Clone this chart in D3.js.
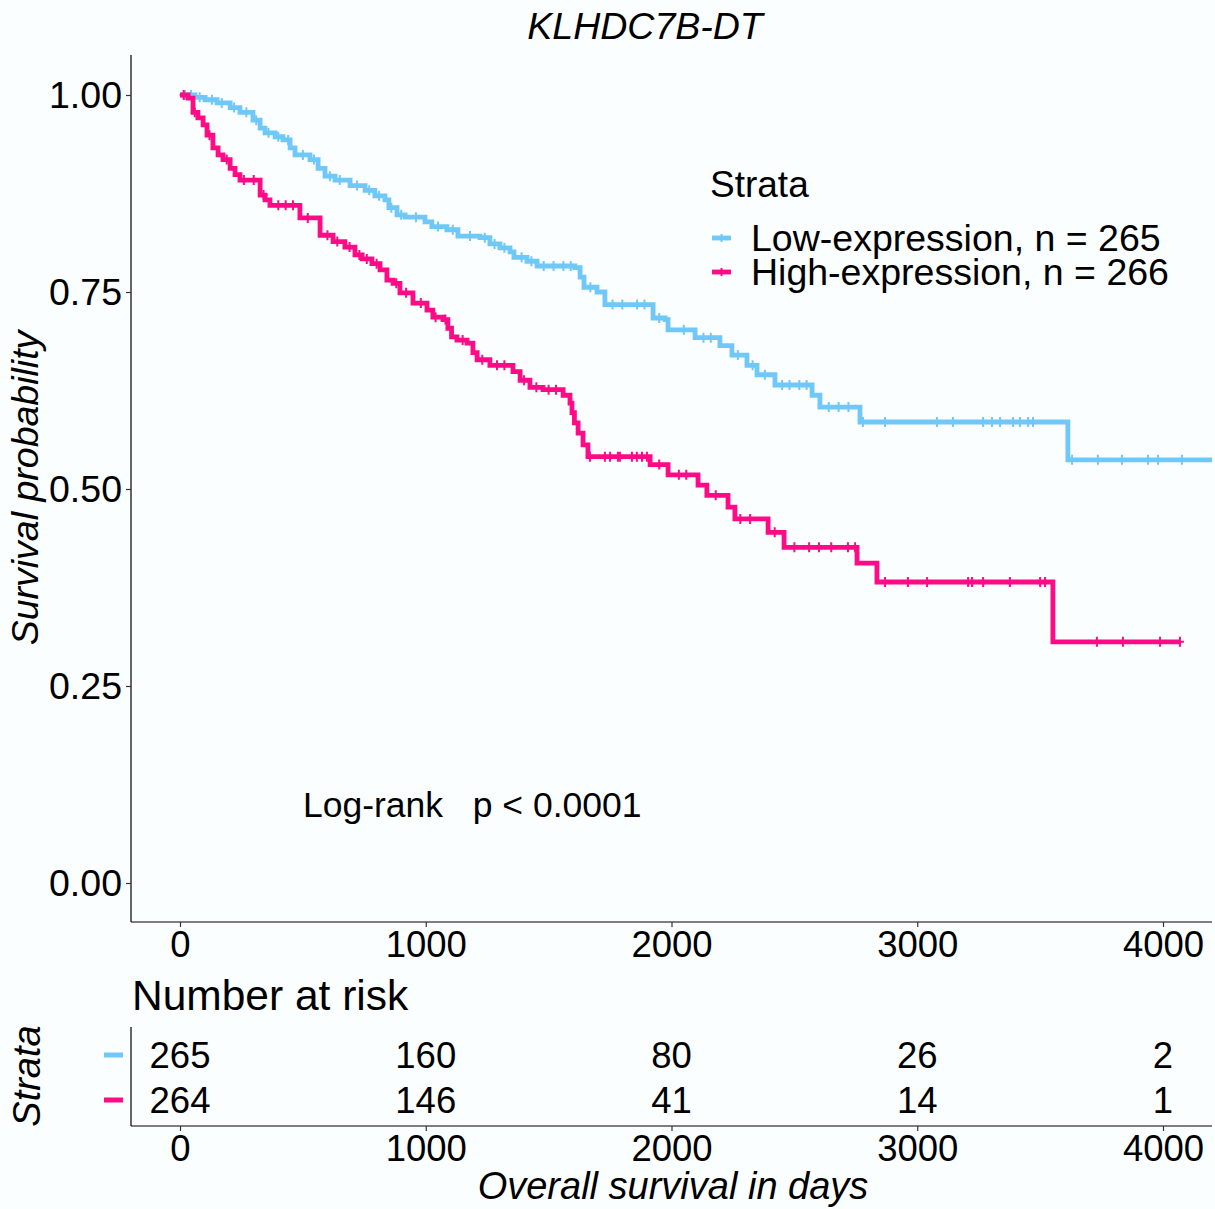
<!DOCTYPE html>
<html>
<head>
<meta charset="utf-8">
<script src="https://cdn.jsdelivr.net/npm/d3@7"></script>
<style>
  html, body { margin: 0; padding: 0; background: #FBFEFE; }
  text { font-family: "Liberation Sans", Arial, sans-serif; fill: #000; }
</style>
</head>
<body>
<svg id="chart" width="1215" height="1209"></svg>
<script>
// ---------------- DATA ----------------
const title = "KLHDC7B-DT";
const strata = ["Low-expression, n = 265", "High-expression, n = 266"];
const xTicks = [0, 1000, 2000, 3000, 4000];
const yTicks = [0, 0.25, 0.5, 0.75, 1.0];
const yTickLabels = ["0.00", "0.25", "0.50", "0.75", "1.00"];

// Low-expression KM steps (time in days, survival after the event)
const lowTimes = [0, 61, 102, 151, 204, 244, 297, 326, 346, 387, 419, 448, 468, 529, 562, 590, 631, 692, 753, 793, 834, 850, 883, 916, 997, 1025, 1086, 1131, 1221, 1261, 1302, 1343, 1359, 1412, 1453, 1607, 1628, 1644, 1697, 1729, 1925, 1974, 1986, 2096, 2197, 2246, 2307, 2348, 2421, 2572, 2604, 2767, 3613, 4200];
const lowSurv  = [1.0, 0.997, 0.994, 0.990, 0.984, 0.978, 0.968, 0.958, 0.952, 0.947, 0.943, 0.933, 0.924, 0.918, 0.907, 0.897, 0.892, 0.885, 0.879, 0.872, 0.867, 0.857, 0.848, 0.845, 0.839, 0.833, 0.829, 0.821, 0.819, 0.811, 0.806, 0.801, 0.794, 0.789, 0.783, 0.781, 0.769, 0.756, 0.750, 0.734, 0.717, 0.715, 0.702, 0.692, 0.682, 0.670, 0.657, 0.645, 0.632, 0.619, 0.604, 0.585, 0.537, 0.537];

// High-expression KM steps
const highTimes = [0, 33, 53, 73, 94, 110, 134, 155, 175, 204, 224, 244, 326, 346, 366, 488, 570, 623, 671, 712, 741, 781, 814, 842, 867, 895, 948, 1005, 1029, 1070, 1090, 1105, 1127, 1168, 1192, 1209, 1261, 1355, 1384, 1424, 1477, 1559, 1587, 1595, 1605, 1620, 1640, 1660, 1913, 1986, 2108, 2144, 2230, 2258, 2393, 2458, 2755, 2836, 3552, 4069];
const highSurv  = [1.0, 0.996, 0.978, 0.971, 0.962, 0.949, 0.933, 0.924, 0.918, 0.907, 0.899, 0.892, 0.873, 0.867, 0.860, 0.844, 0.822, 0.814, 0.807, 0.797, 0.792, 0.786, 0.778, 0.765, 0.761, 0.749, 0.736, 0.727, 0.718, 0.715, 0.704, 0.693, 0.689, 0.685, 0.673, 0.664, 0.657, 0.649, 0.638, 0.629, 0.626, 0.619, 0.609, 0.597, 0.584, 0.571, 0.556, 0.541, 0.531, 0.518, 0.505, 0.492, 0.477, 0.462, 0.445, 0.426, 0.406, 0.382, 0.306, 0.306];

// Censoring times
const lowCensor = [20, 45, 80, 130, 170, 220, 270, 310, 360, 400, 440, 500, 545, 610, 650, 720, 770, 810, 860, 900, 960, 1050, 1110, 1180, 1240, 1280, 1320, 1390, 1430, 1480, 1520, 1560, 1590, 1670, 1760, 1800, 1860, 1890, 1950, 2050, 2130, 2160, 2270, 2330, 2380, 2450, 2480, 2520, 2550, 2640, 2680, 2720, 2779, 2869, 3080, 3145, 3268, 3304, 3337, 3390, 3418, 3451, 3471, 3630, 3735, 3833, 3939, 3980, 4077];
const highCensor = [15, 60, 120, 190, 260, 300, 340, 400, 430, 460, 520, 600, 640, 690, 730, 760, 800, 880, 920, 980, 1040, 1080, 1150, 1230, 1290, 1320, 1400, 1450, 1500, 1530, 1668, 1729, 1750, 1782, 1790, 1839, 1859, 1880, 1900, 1950, 2030, 2060, 2180, 2280, 2320, 2420, 2500, 2560, 2600, 2650, 2718, 2747, 2869, 2962, 3040, 3207, 3223, 3268, 3377, 3500, 3520, 3731, 3837, 3988, 4069];

// Number at risk
const riskLow  = [265, 160, 80, 26, 2];
const riskHigh = [264, 146, 41, 14, 1];

const colors = ["#6FC8F8", "#FF0A87"];

// ---------------- LAYOUT ----------------
const svg = d3.select("#chart");
const panel = { left: 131, right: 1212, top: 55, bottom: 922 };
const x = d3.scaleLinear().domain([0, 4000]).range([180, 1163]);
const y = d3.scaleLinear().domain([0, 1]).range([883, 95]);
const font = "\"Liberation Sans\", Arial, sans-serif";

svg.append("rect").attr("width", 1215).attr("height", 1209).attr("fill", "#FBFEFE");

// title
svg.append("text").attr("x", 645).attr("y", 39).attr("text-anchor", "middle")
  .attr("font-size", 37.5).attr("font-style", "italic").text(title);

// clip
svg.append("clipPath").attr("id", "clip").append("rect")
  .attr("x", panel.left).attr("y", panel.top)
  .attr("width", panel.right - panel.left).attr("height", panel.bottom - panel.top);

// axes
const yAxis = d3.axisLeft(y).tickValues(yTicks).tickFormat((d, i) => yTickLabels[i]).tickSize(5).tickPadding(4);
const gy = svg.append("g").attr("transform", `translate(${panel.left},0)`).call(yAxis);
gy.select(".domain").attr("d", `M0,${panel.top}V${panel.bottom}`);
const xAxis = d3.axisBottom(x).tickValues(xTicks).tickFormat(d3.format("d")).tickSize(5).tickPadding(4);
const gx = svg.append("g").attr("transform", `translate(0,${panel.bottom})`).call(xAxis);
gx.select(".domain").attr("d", `M${panel.left},0H${panel.right}`);
[gx, gy].forEach(g => {
  g.selectAll("text").attr("font-size", 36.5).attr("font-family", font).attr("fill", "#000");
  g.selectAll("line").attr("stroke", "#333").attr("stroke-width", 1.2);
  g.select(".domain").attr("stroke", "#000").attr("stroke-width", 1.2);
});
gy.selectAll("text").attr("dy", "0.34em").attr("font-size", 37.5);
gx.selectAll("text").attr("dy", "0.71em");

// y label
svg.append("text").attr("transform", "translate(38,488) rotate(-90)").attr("text-anchor", "middle")
  .attr("font-size", 37.5).attr("font-style", "italic").text("Survival probability");

// curves
const series = [
  { t: lowTimes, s: lowSurv, c: lowCensor, color: colors[0] },
  { t: highTimes, s: highSurv, c: highCensor, color: colors[1] }
];
const line = d3.line().x(d => x(d[0])).y(d => y(d[1])).curve(d3.curveStepAfter);
const gCurves = svg.append("g").attr("clip-path", "url(#clip)");
function survAt(sr, t) {
  let v = sr.s[0];
  for (let i = 0; i < sr.t.length; i++) { if (sr.t[i] <= t) v = sr.s[i]; else break; }
  return v;
}
series.forEach(sr => {
  const pts = sr.t.map((t, i) => [t, sr.s[i]]);
  gCurves.append("path").attr("d", line(pts)).attr("fill", "none")
    .attr("stroke", sr.color).attr("stroke-width", 4.8);
  gCurves.selectAll(null).data(sr.c).enter().append("path")
    .attr("d", d => { const px = x(d), py = y(survAt(sr, d)); return `M${px},${py - 5}V${py + 5}M${px - 4},${py}H${px + 4}`; })
    .attr("stroke", sr.color).attr("stroke-width", 2).attr("fill", "none");
});

// legend
svg.append("text").attr("x", 710).attr("y", 197).attr("font-size", 37).text("Strata");
strata.forEach((lab, i) => {
  const yy = 238 + i * 34;
  svg.append("path").attr("d", `M712,${yy}H731`).attr("stroke", colors[i]).attr("stroke-width", 4.8);
  svg.append("path").attr("d", `M721.5,${yy - 4}V${yy + 4}`).attr("stroke", colors[i]).attr("stroke-width", 2);
  svg.append("text").attr("x", 751).attr("y", yy + 13).attr("font-size", 37.5).text(lab);
});

// log-rank
svg.append("text").attr("x", 303).attr("y", 817).attr("font-size", 35.5)
  .style("white-space", "pre").text("Log-rank   p < 0.0001");

// ---------------- RISK TABLE ----------------
svg.append("text").attr("x", 132).attr("y", 1010).attr("font-size", 42.5).text("Number at risk");
const rp = { top: 1027, bottom: 1126 };
const yr = d3.scalePoint().domain(["low", "high"]).range([1055, 1100]);
const gyr = svg.append("g").attr("transform", `translate(${panel.left},0)`)
  .call(d3.axisLeft(yr).tickSize(0).tickFormat(""));
gyr.select(".domain").attr("d", `M0,${rp.top}V${rp.bottom}`).attr("stroke", "#000").attr("stroke-width", 1.2);
const gxr = svg.append("g").attr("transform", `translate(0,${rp.bottom})`)
  .call(d3.axisBottom(x).tickValues(xTicks).tickFormat(d3.format("d")).tickSize(5).tickPadding(4));
gxr.select(".domain").attr("d", `M${panel.left},0H${panel.right}`).attr("stroke", "#000").attr("stroke-width", 1.2);
gxr.selectAll("line").attr("stroke", "#333").attr("stroke-width", 1.2);
gxr.selectAll("text").attr("font-size", 36.5).attr("font-family", font).attr("fill", "#000").attr("dy", "0.71em");

[["low", riskLow, colors[0]], ["high", riskHigh, colors[1]]].forEach(([k, arr, col]) => {
  svg.append("path").attr("d", `M104,${yr(k)}H123`).attr("stroke", col).attr("stroke-width", 5);
  svg.selectAll(null).data(arr).enter().append("text")
    .attr("x", (d, i) => x(xTicks[i])).attr("y", yr(k)).attr("dy", "0.36em")
    .attr("text-anchor", "middle").attr("font-size", 36.5).text(d => d);
});
svg.append("text").attr("transform", "translate(40,1076) rotate(-90)").attr("text-anchor", "middle")
  .attr("font-size", 38).attr("font-style", "italic").text("Strata");

svg.append("text").attr("x", 673).attr("y", 1199).attr("text-anchor", "middle")
  .attr("font-size", 38).attr("font-style", "italic").text("Overall survival in days");
</script>
</body>
</html>
